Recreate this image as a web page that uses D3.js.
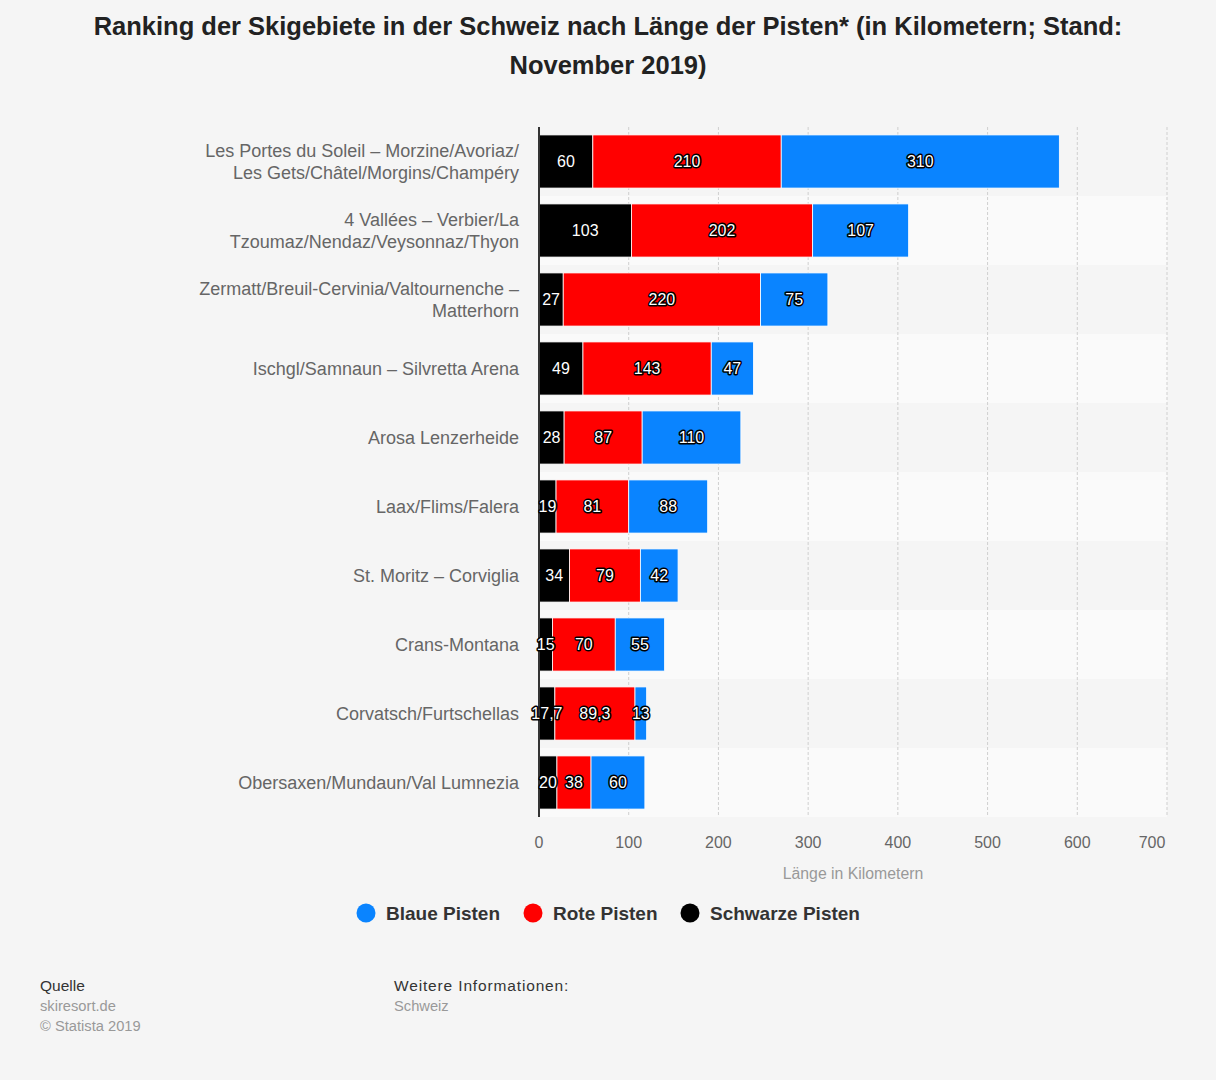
<!DOCTYPE html>
<meta charset="utf-8">
<script src="https://d3js.org/d3.v7.min.js"></script>
<style>
  body { margin: 0; background: #f5f5f5; }
  text { font-family: "Liberation Sans", Arial, sans-serif; }
</style>
<div id="chart"></div>
<script>

// categories (one entry per line of the label)
const resorts = [
    ["Les Portes du Soleil – Morzine/Avoriaz/", "Les Gets/Châtel/Morgins/Champéry"],
    ["4 Vallées – Verbier/La", "Tzoumaz/Nendaz/Veysonnaz/Thyon"],
    ["Zermatt/Breuil-Cervinia/Valtournenche –", "Matterhorn"],
    ["Ischgl/Samnaun – Silvretta Arena"],
    ["Arosa Lenzerheide"],
    ["Laax/Flims/Falera"],
    ["St. Moritz – Corviglia"],
    ["Crans-Montana"],
    ["Corvatsch/Furtschellas"],
    ["Obersaxen/Mundaun/Val Lumnezia"]
];

// series values (km)
const schwarz = [60, 103, 27, 49, 28, 19, 34, 15, 17.7, 20];
const rot     = [210, 202, 220, 143, 87, 81, 79, 70, 89.3, 38];
const blau    = [310, 107, 75, 47, 110, 88, 42, 55, 13, 60];

const xTicks = [0, 100, 200, 300, 400, 500, 600, 700];

const seriesNames = ["Schwarze Pisten", "Rote Pisten", "Blaue Pisten"];
const legendOrder = ["Blaue Pisten", "Rote Pisten", "Schwarze Pisten"];
const colors = {"Schwarze Pisten": "#000000", "Rote Pisten": "#ff0000", "Blaue Pisten": "#0a84ff"};

const W = 1216, H = 1080;
const plotLeft = 539, plotRight = 1167, plotTop = 127, plotBottom = 817;

const svg = d3.select("#chart").append("svg")
    .attr("width", W).attr("height", H);

svg.append("rect").attr("width", W).attr("height", H).attr("fill", "#f5f5f5");

// title
const title = svg.append("text")
    .attr("text-anchor", "middle")
    .style("font-size", "25.5px").style("font-weight", "bold").style("fill", "#222");
title.append("tspan").attr("x", 608).attr("y", 35)
    .text("Ranking der Skigebiete in der Schweiz nach Länge der Pisten* (in Kilometern; Stand:");
title.append("tspan").attr("x", 608).attr("y", 74).text("November 2019)");

const x = d3.scaleLinear().domain([0, 700]).range([plotLeft, plotRight]);
const y = d3.scaleBand().domain(d3.range(resorts.length)).range([plotTop, plotBottom]).paddingInner(0.23).paddingOuter(0.115);
const band = d3.scaleBand().domain(d3.range(resorts.length)).range([plotTop, plotBottom]);

// alternating row stripes
svg.selectAll(".stripe")
    .data(d3.range(resorts.length).filter(i => i % 2 === 1))
    .join("rect")
    .attr("x", plotLeft).attr("width", plotRight - plotLeft)
    .attr("y", i => band(i)).attr("height", band.bandwidth())
    .attr("fill", "#fafafa");

// grid lines
svg.selectAll(".grid")
    .data(xTicks.slice(1))
    .join("line")
    .attr("x1", d => x(d)).attr("x2", d => x(d))
    .attr("y1", plotTop).attr("y2", plotBottom)
    .attr("stroke", "#cfcfcf").attr("stroke-width", 1)
    .attr("stroke-dasharray", "3,2");

// stacked data
const rows = resorts.map((r, i) => ({
    i: i,
    "Schwarze Pisten": schwarz[i],
    "Rote Pisten": rot[i],
    "Blaue Pisten": blau[i]
}));
const stacked = d3.stack().keys(seriesNames)(rows);

const fmt = v => String(v).replace(".", ",");

stacked.forEach(layer => {
    svg.append("g").selectAll("rect")
        .data(layer)
        .join("rect")
        .attr("x", d => x(d[0]))
        .attr("width", d => x(d[1]) - x(d[0]))
        .attr("y", d => y(d.data.i))
        .attr("height", y.bandwidth())
        .attr("fill", colors[layer.key])
        .attr("stroke", "#ffffff").attr("stroke-width", 0.8);
});

// y axis line
svg.append("line")
    .attr("x1", plotLeft).attr("x2", plotLeft)
    .attr("y1", plotTop).attr("y2", plotBottom)
    .attr("stroke", "#333").attr("stroke-width", 2);

// value labels
stacked.forEach(layer => {
    svg.append("g").selectAll("text")
        .data(layer)
        .join("text")
        .attr("x", d => (x(d[0]) + x(d[1])) / 2)
        .attr("y", d => y(d.data.i) + y.bandwidth() / 2)
        .attr("dy", "0.36em")
        .attr("text-anchor", "middle")
        .style("font-size", "16px")
        .style("fill", "#ffffff")
        .style("stroke", "#000")
        .style("stroke-width", 3)
        .style("paint-order", "stroke")
        .style("stroke-linejoin", "round")
        .text(d => fmt(d.data[layer.key]));
});

// category labels
const labels = svg.selectAll(".cat")
    .data(resorts)
    .join("text")
    .attr("text-anchor", "end")
    .style("font-size", "18px").style("fill", "#666");
labels.each(function(lines, i) {
    const cy = band(i) + band.bandwidth() / 2;
    const start = cy - (lines.length - 1) * 11;
    d3.select(this).selectAll("tspan")
        .data(lines)
        .join("tspan")
        .attr("x", 519)
        .attr("y", (d, k) => start + k * 22)
        .attr("dy", "0.35em")
        .text(d => d);
});

// x axis tick labels
svg.selectAll(".xt")
    .data(xTicks)
    .join("text")
    .attr("x", d => d === 700 ? x(d) - 15 : x(d))
    .attr("y", 848)
    .attr("text-anchor", "middle")
    .style("font-size", "16px").style("fill", "#666")
    .text(d => d);

svg.append("text")
    .attr("x", 853).attr("y", 879)
    .attr("text-anchor", "middle")
    .style("font-size", "15.8px").style("fill", "#999")
    .text("Länge in Kilometern");

// legend
const legendX = [366, 533, 690];
const lg = svg.selectAll(".lg")
    .data(legendOrder)
    .join("g")
    .attr("transform", (d, i) => `translate(${legendX[i]},913)`);
lg.append("circle").attr("r", 9.5).attr("fill", d => colors[d]);
lg.append("text")
    .attr("x", 20).attr("dy", "0.36em")
    .style("font-size", "19px").style("font-weight", "bold").style("fill", "#333")
    .text(d => d);

// footer
const foot = [
    {x: 40, y: 991, t: "Quelle", c: "#333", ls: 0},
    {x: 40, y: 1011, t: "skiresort.de", c: "#999", ls: 0},
    {x: 40, y: 1031, t: "© Statista 2019", c: "#999", ls: 0},
    {x: 394, y: 991, t: "Weitere Informationen:", c: "#333", ls: 0.85},
    {x: 394, y: 1011, t: "Schweiz", c: "#999", ls: 0}
];
svg.selectAll(".foot")
    .data(foot)
    .join("text")
    .attr("x", d => d.x).attr("y", d => d.y)
    .style("font-size", d => d.c === "#333" ? "15.5px" : "14.7px")
    .style("letter-spacing", d => d.ls + "px")
    .style("fill", d => d.c)
    .text(d => d.t);

</script>
